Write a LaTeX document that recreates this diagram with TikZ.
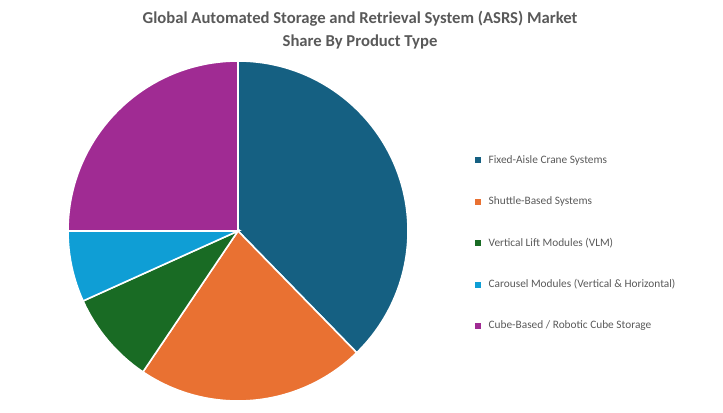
\documentclass[tikz,border=0pt]{standalone}
\usepackage{fontspec}
\setmainfont{Carlito}
\definecolor{cFixed}{HTML}{156082}
\definecolor{cShuttle}{HTML}{E97132}
\definecolor{cVLM}{HTML}{196B24}
\definecolor{cCarousel}{HTML}{0F9ED5}
\definecolor{cCube}{HTML}{A02B93}
\definecolor{cText}{HTML}{595959}
\tikzset{
  slice/.style={draw=white, line width=1.2pt},
  legend key/.style={minimum size=4.5pt, inner sep=0pt},
  legend text/.style={anchor=west, font=\fontsize{8.5}{10}\selectfont, text=cText}
}
\begin{document}
\begin{tikzpicture}[x=0.75pt, y=-0.75pt]
\useasboundingbox (0,0) rectangle (723,413);
\node[font=\bfseries\fontsize{12.5}{17}\selectfont, text=cText, align=center] (title) at (360,30)
  {Global Automated Storage and Retrieval System (ASRS) Market\\Share By Product Type};
% pie slices
\coordinate (c) at (238,231);
\begin{scope}[shift={(c)}, y=0.75pt]
\fill[cFixed, slice] (0,0) -- (90:170) arc[start angle=90, end angle=-45.7, radius=170] -- cycle;
\fill[cShuttle, slice] (0,0) -- (-45.7:170) arc[start angle=-45.7, end angle=-124, radius=170] -- cycle;
\fill[cVLM, slice] (0,0) -- (-124:170) arc[start angle=-124, end angle=-155.7, radius=170] -- cycle;
\fill[cCarousel, slice] (0,0) -- (-155.7:170) arc[start angle=-155.7, end angle=-180, radius=170] -- cycle;
\fill[cCube, slice] (0,0) -- (180:170) arc[start angle=180, end angle=90, radius=170] -- cycle;
\end{scope}
% legend
\foreach \col/\txt [count=\i] in {cFixed/{Fixed-Aisle Crane Systems},
    cShuttle/{Shuttle-Based Systems},
    cVLM/{Vertical Lift Modules (VLM)},
    cCarousel/{Carousel Modules (Vertical \& Horizontal)},
    cCube/{Cube-Based {/} Robotic Cube Storage}}{
  \node[legend key, fill=\col] (key\i) at (478,{160+41.5*(\i-1)}) {};
  \node[legend text] (lab\i) at ([xshift=2pt]key\i.east) {\txt};
}
\end{tikzpicture}
\end{document}
